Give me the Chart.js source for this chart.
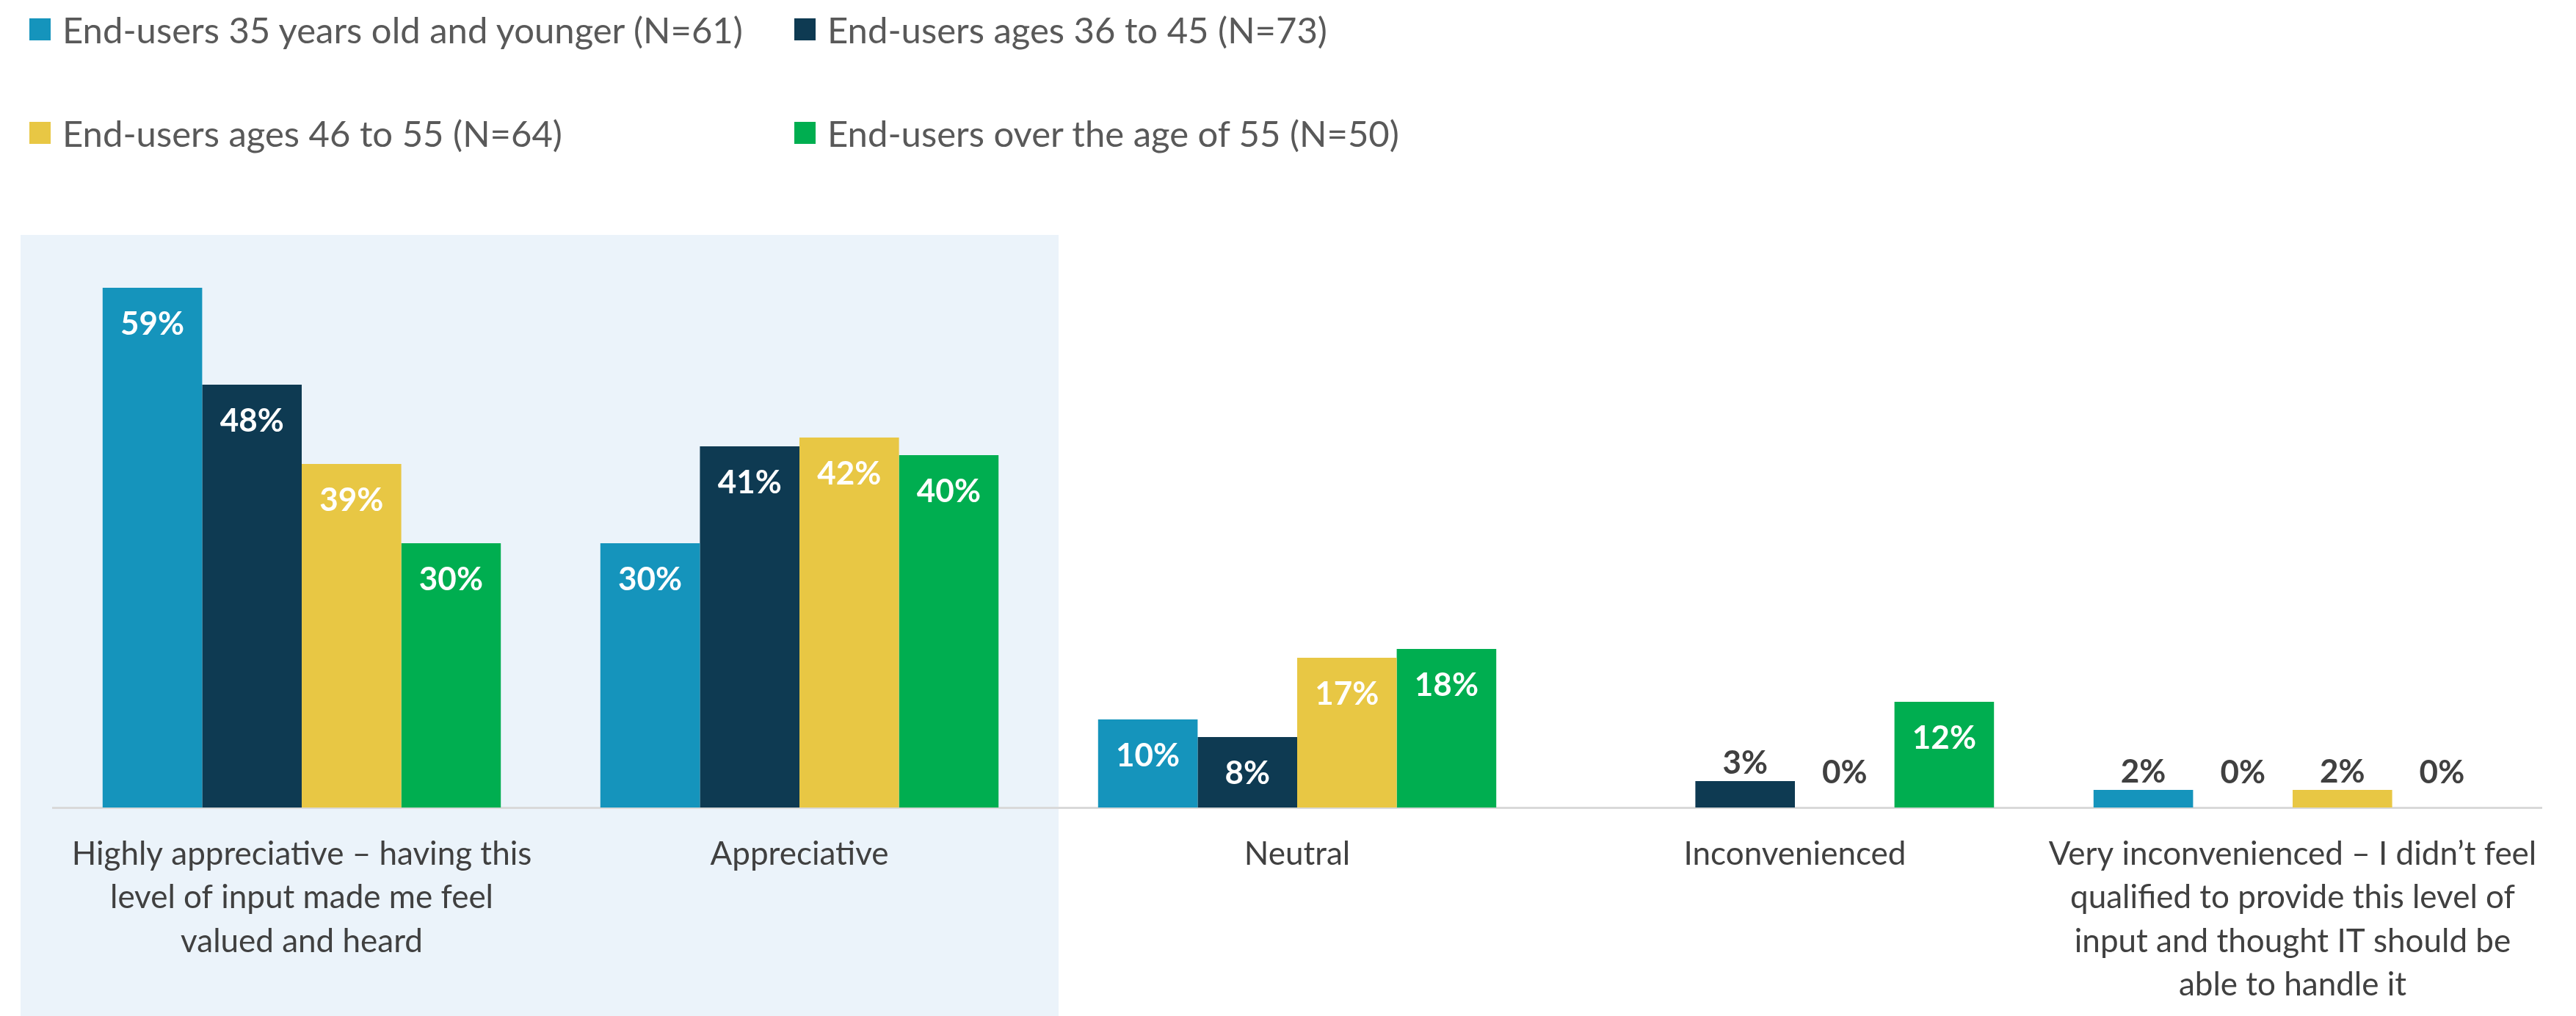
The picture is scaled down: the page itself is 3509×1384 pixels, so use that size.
<!DOCTYPE html>
<html>
<head>
<meta charset="utf-8">
<title>End-user reaction by age group</title>
<script src="https://cdn.jsdelivr.net/npm/chart.js@4.4.1/dist/chart.umd.min.js"></script>
<style>
  html, body { margin: 0; padding: 0; background: #fff; }
  #wrap { position: relative; width: 3509px; height: 1384px; overflow: hidden; }
  #chart { position: absolute; left: 0; top: 0; }
  #legend { position: absolute; left: 0; top: 0; font-family: Lato, sans-serif; font-size: 49px; color: #595959; }
  .legend-item { position: absolute; display: flex; align-items: center; white-space: nowrap; height: 60px; }
  .legend-swatch { width: 29px; height: 30px; margin-right: 16px; flex: none; }
</style>
</head>
<body>
<div id="wrap">
  <canvas id="chart" width="3509" height="1384"></canvas>
  <div id="legend"></div>
</div>
<script>
// answer options (multi-line labels as arrays)
const categories = [
    ['Highly appreciative \u2013 having this', 'level of input made me feel', 'valued and heard'],
    'Appreciative',
    'Neutral',
    'Inconvenienced',
    ['Very inconvenienced \u2013 I didn\u2019t feel', 'qualified to provide this level of', 'input and thought IT should be', 'able to handle it']
];

const seriesNames = [
    'End-users 35 years old and younger (N=61)',
    'End-users ages 36 to 45 (N=73)',
    'End-users ages 46 to 55 (N=64)',
    'End-users over the age of 55 (N=50)'
];

// percentages per answer option (null = no answer recorded)
const under35 = [59, 30, 10, null, 2];
const ages36to45 = [48, 41, 8, 3, 0];
const ages46to55 = [39, 42, 17, 0, 2];
const over55 = [30, 40, 18, 12, 0];

const seriesColors = ['#1594BC', '#0E3A52', '#E8C744', '#00AE50'];
const yMax = 60;

// legend: two items per row
function buildLegend() {
    const legend = document.getElementById('legend');
    const colLeft = [40, 1082];
    const rowCenter = [40, 181];
    seriesNames.forEach((name, i) => {
        const item = document.createElement('div');
        item.className = 'legend-item';
        item.style.left = colLeft[i % 2] + 'px';
        item.style.top = (rowCenter[Math.floor(i / 2)] - 30) + 'px';
        const swatch = document.createElement('span');
        swatch.className = 'legend-swatch';
        swatch.style.background = seriesColors[i];
        const text = document.createElement('span');
        text.textContent = name;
        item.appendChild(swatch);
        item.appendChild(text);
        legend.appendChild(item);
    });
}

// light blue panel behind the two "appreciative" groups
const highlightPanel = {
    id: 'highlightPanel',
    beforeDraw(chart) {
        const { ctx, chartArea } = chart;
        const xs = chart.scales.x;
        const half = (xs.getPixelForValue(1) - xs.getPixelForValue(0)) / 2;
        const left = xs.getPixelForValue(0) - half - 44;
        const right = xs.getPixelForValue(1) + half + 14;
        const top = chartArea.top - 60;
        ctx.save();
        ctx.fillStyle = '#EBF3FA';
        ctx.fillRect(left, top, right - left, chart.height - top);
        ctx.restore();
    }
};

// percentage labels: white inside tall bars, grey above short ones
const valueLabels = {
    id: 'valueLabels',
    afterDatasetsDraw(chart) {
        const ctx = chart.ctx;
        ctx.save();
        ctx.font = 'bold 44px Lato, sans-serif';
        ctx.textAlign = 'center';
        ctx.textBaseline = 'middle';
        chart.data.datasets.forEach((ds, i) => {
            chart.getDatasetMeta(i).data.forEach((bar, j) => {
                const v = ds.data[j];
                if (v === null || v === undefined) return;
                const inside = v >= 5;
                const y = inside ? bar.y + 50 : Math.min(bar.y - 24, bar.base - 47);
                ctx.fillStyle = inside ? '#FFFFFF' : '#404040';
                ctx.fillText(v + '%', bar.x, y);
            });
        });
        ctx.restore();
    }
};

function renderChart() {
    const ctx = document.getElementById('chart').getContext('2d');
    const seriesData = [under35, ages36to45, ages46to55, over55];

    new Chart(ctx, {
        type: 'bar',
        data: {
            labels: categories,
            datasets: seriesData.map((data, i) => ({
                label: seriesNames[i],
                data: data,
                backgroundColor: seriesColors[i],
                borderWidth: 0,
                categoryPercentage: 0.8,
                barPercentage: 1.0
            }))
        },
        options: {
            responsive: false,
            animation: false,
            layout: {
                padding: { top: 380, left: 72, right: 47, bottom: 0 }
            },
            plugins: {
                legend: { display: false },
                tooltip: { enabled: false }
            },
            scales: {
                x: {
                    grid: { display: false, drawTicks: false },
                    border: { display: true, color: '#D9D9D9', width: 3 },
                    ticks: {
                        color: '#404040',
                        font: { family: 'Lato', size: 44, lineHeight: 1.35 },
                        padding: 34,
                        maxRotation: 0,
                        autoSkip: false
                    },
                    afterFit(scale) {
                        scale.height = 284;
                    }
                },
                y: {
                    display: false,
                    min: 0,
                    max: yMax
                }
            }
        },
        plugins: [highlightPanel, valueLabels]
    });
}

buildLegend();
renderChart();
</script>
</body>
</html>
